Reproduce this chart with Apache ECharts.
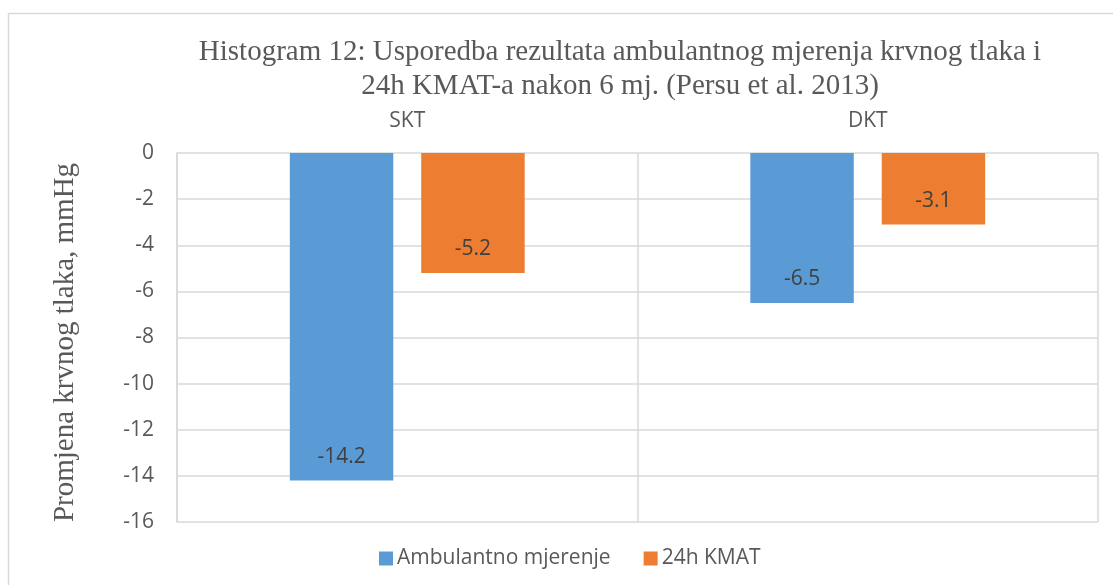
<!DOCTYPE html>
<html>
<head>
<meta charset="utf-8">
<script src="https://cdn.jsdelivr.net/npm/echarts@6/dist/echarts.min.js"></script>
<style>
html,body{margin:0;padding:0;background:#fff;}
#chart{width:1113px;height:585px;}
</style>
</head>
<body>
<div id="chart"></div>
<script>
const categories = ['SKT', 'DKT'];
const seriesNames = ['Ambulantno mjerenje', '24h KMAT'];
const ambulantno = [-14.2, -6.5];
const kmat24h = [-5.2, -3.1];
const titleLines = ['Histogram 12: Usporedba rezultata ambulantnog mjerenja krvnog tlaka i', '24h KMAT-a nakon 6 mj. (Persu et al. 2013)'];
const yAxisName = 'Promjena krvnog tlaka, mmHg';

const chart = echarts.init(document.getElementById('chart'), null, {renderer: 'canvas'});
const sans = '"Open Sans", sans-serif';
const serif = '"Liberation Serif", "Times New Roman", serif';
const labelCfg = {
  show: true,
  position: 'insideBottom',
  distance: 13,
  color: '#404040',
  fontFamily: sans,
  fontSize: 21
};
chart.setOption({
  animation: false,
  graphic: [
    {type: 'rect', shape: {x: 8.5, y: 13.5, width: 1110, height: 600}, style: {fill: 'none', stroke: '#d9d9d9', lineWidth: 1.5}, silent: true},
    {type: 'text', x: 620, y: 35, style: {text: titleLines.join('\n'), textAlign: 'center', fill: '#595959', font: '29px "Liberation Serif", serif', lineHeight: 34}}
  ],
  legend: {
    data: seriesNames,
    left: 374,
    top: 543,
    itemWidth: 14,
    itemHeight: 14,
    itemGap: 33,
    icon: 'rect',
    textStyle: {color: '#595959', fontFamily: sans, fontSize: 21, padding: [0, 0, 0, -1]}
  },
  grid: {left: 177, right: 15, top: 153, bottom: 63, containLabel: false},
  xAxis: {
    type: 'category',
    data: categories,
    position: 'top',
    axisLine: {show: false},
    axisTick: {show: false},
    axisLabel: {color: '#595959', fontFamily: sans, fontSize: 21, margin: 21},
    splitLine: {show: true, lineStyle: {color: '#d9d9d9', width: 1.5}}
  },
  yAxis: {
    type: 'value',
    min: -16,
    max: 0,
    interval: 2,
    name: yAxisName,
    nameLocation: 'middle',
    nameGap: 97,
    nameTextStyle: {color: '#595959', fontFamily: serif, fontSize: 29, padding: [0, 10, 0, 0]},
    axisLine: {show: true, lineStyle: {color: '#d9d9d9', width: 1.5}},
    axisTick: {show: false},
    axisLabel: {color: '#595959', fontFamily: sans, fontSize: 21, margin: 23},
    splitLine: {show: true, lineStyle: {color: '#d9d9d9', width: 1.5}}
  },
  series: [
    {name: seriesNames[0], type: 'bar', data: ambulantno, itemStyle: {color: '#5B9BD5'}, barGap: '27%', barCategoryGap: '49%', label: labelCfg},
    {name: seriesNames[1], type: 'bar', data: kmat24h, itemStyle: {color: '#ED7D31'}, barGap: '27%', barCategoryGap: '49%', label: labelCfg}
  ]
});
</script>
</body>
</html>
